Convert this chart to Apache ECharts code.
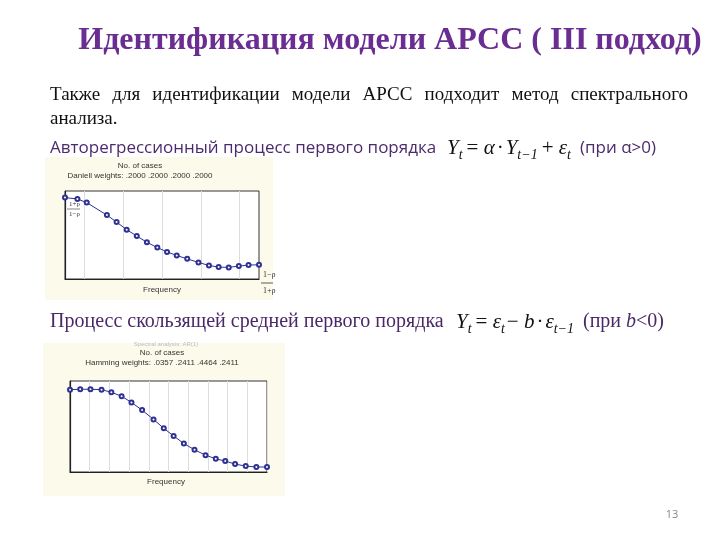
<!DOCTYPE html>
<html>
<head>
<meta charset="utf-8">
<script src="https://cdn.jsdelivr.net/npm/echarts@6/dist/echarts.min.js"></script>
<style>
  html, body { margin: 0; padding: 0; background: #fff; }
  #main { width: 720px; height: 540px; }
</style>
</head>
<body>
<div id="main"></div>
<script>
// AR(1) spectrum, Daniell weights
const arFreq = [0, 0.032, 0.056, 0.108, 0.133, 0.159, 0.185, 0.211, 0.238, 0.263,
  0.288, 0.315, 0.344, 0.371, 0.396, 0.422, 0.448, 0.473, 0.5]
const arDensity = [0.925, 0.91, 0.868, 0.726, 0.647, 0.56, 0.489, 0.417, 0.357, 0.308,
  0.267, 0.229, 0.188, 0.154, 0.135, 0.132, 0.147, 0.158, 0.162]
const arGridX = [0.054, 0.153, 0.254, 0.354, 0.453]

// MA(1) spectrum, Hamming weights
const maFreq = [0, 0.026, 0.052, 0.08, 0.105, 0.131, 0.156, 0.183, 0.212, 0.238,
  0.263, 0.289, 0.316, 0.344, 0.37, 0.394, 0.419, 0.446, 0.473, 0.5]
const maDensity = [0.905, 0.909, 0.909, 0.905, 0.876, 0.833, 0.764, 0.68, 0.578, 0.48,
  0.396, 0.313, 0.244, 0.185, 0.145, 0.12, 0.087, 0.065, 0.055, 0.055]

const ctx = document.createElement('canvas').getContext('2d')
function measure(text, font) {
  ctx.font = font
  return ctx.measureText(text).width
}

const serif = '"Liberation Serif", "DejaVu Serif", serif'
const sans = '"Open Sans", "Noto Sans", sans-serif'
const tiny = '8px "Liberation Sans", Arial, sans-serif'

// lays out formula pieces one after another
function formula(x, y, parts) {
  const out = []
  let cx = x
  parts.forEach(function (p) {
    const size = p.sub ? 14 : 21
    const style = (p.italic ? 'italic ' : '') + size + 'px ' + serif
    out.push({
      type: 'text', x: cx, y: y + (p.sub ? 7 : 0), z: 10,
      style: { text: p.t, font: style, fill: '#111', textVerticalAlign: 'middle' }
    })
    cx += measure(p.t, style) + (p.gap || 0)
  })
  return out
}

// spreads words of a line between x0 and x1
function justify(line, x0, x1, y, font, fill) {
  const words = line.split(' ')
  const total = words.reduce(function (s, w) { return s + measure(w, font) }, 0)
  const gap = (x1 - x0 - total) / (words.length - 1)
  let cx = x0
  return words.map(function (w) {
    const el = { type: 'text', x: cx, y: y, z: 10, style: { text: w, font: font, fill: fill, textVerticalAlign: 'middle' } }
    cx += measure(w, font) + gap
    return el
  })
}

const texts = [
  { x: 390, y: 41, text: 'Идентификация модели АРСС ( III подход)', font: 'bold 32px ' + serif, fill: '#6a2d91', align: 'center' },
  { x: 50, y: 119, text: 'анализа.', font: '19px ' + serif, fill: '#111' },
  { x: 50, y: 148, text: 'Авторегрессионный процесс первого порядка', font: '17px ' + sans, fill: '#4b2a6e' },
  { x: 580, y: 148, text: '(при α>0)', font: '17px ' + sans, fill: '#4b2a6e' },
  { x: 50, y: 322, text: 'Процесс скользящей средней первого порядка', font: '20px ' + serif, fill: '#4a2868' },
  { x: 583, y: 322, text: '(при ', font: '20px ' + serif, fill: '#4a2868' },
  { x: 626, y: 322, text: 'b', font: 'italic 20px ' + serif, fill: '#4a2868' },
  { x: 636, y: 322, text: '<0)', font: '20px ' + serif, fill: '#4a2868' },
  { x: 672, y: 515, text: '13', font: '11px ' + sans, fill: '#888', align: 'center' },
  // small captions of the scanned charts
  { x: 140, y: 166, text: 'No. of cases', font: tiny, fill: '#333', align: 'center' },
  { x: 140, y: 176, text: 'Daniell weights: .2000 .2000 .2000 .2000', font: tiny, fill: '#333', align: 'center' },
  { x: 162, y: 290, text: 'Frequency', font: tiny, fill: '#333', align: 'center' },
  { x: 69, y: 204, text: '1+ρ', font: '7px ' + serif, fill: '#333' },
  { x: 69, y: 214, text: '1−ρ', font: '7px ' + serif, fill: '#333' },
  { x: 263, y: 275, text: '1−ρ', font: '8px ' + serif, fill: '#333' },
  { x: 263, y: 291, text: '1+ρ', font: '8px ' + serif, fill: '#333' },
  { x: 166, y: 344, text: 'Spectral analysis: AR(1)', font: '6px "Liberation Sans", sans-serif', fill: '#bbb', align: 'center' },
  { x: 162, y: 353, text: 'No. of cases', font: tiny, fill: '#333', align: 'center' },
  { x: 162, y: 363, text: 'Hamming weights: .0357 .2411 .4464 .2411', font: tiny, fill: '#333', align: 'center' },
  { x: 166, y: 482, text: 'Frequency', font: tiny, fill: '#333', align: 'center' }
].map(function (d) {
  return {
    type: 'text', x: d.x, y: d.y, z: 10,
    style: { text: d.text, font: d.font, fill: d.fill, textAlign: d.align || 'left', textVerticalAlign: 'middle' }
  }
})

const graphics = [
  { type: 'rect', shape: { x: 45, y: 157, width: 228, height: 143 }, style: { fill: '#fcfaea' }, z: 0 },
  { type: 'rect', shape: { x: 43, y: 343, width: 242, height: 153 }, style: { fill: '#fcfaea' }, z: 0 },
  { type: 'rect', shape: { x: 65, y: 191, width: 194, height: 88 }, style: { fill: '#fff', stroke: '#333', lineWidth: 1 }, z: 1 },
  { type: 'rect', shape: { x: 70, y: 381, width: 197, height: 91 }, style: { fill: '#fff', stroke: '#333', lineWidth: 1 }, z: 1 },
  { type: 'line', shape: { x1: 261, y1: 283, x2: 273, y2: 283 }, style: { stroke: '#333', lineWidth: 0.8 }, z: 10 },
  { type: 'line', shape: { x1: 67, y1: 209, x2: 80, y2: 209 }, style: { stroke: '#333', lineWidth: 0.6 }, z: 10 }
].concat(texts)
  .concat(justify('Также для идентификации модели АРСС подходит метод спектрального', 50, 688, 95, '19px ' + serif, '#111'))
  .concat(formula(447, 148, [
    { t: 'Y', italic: true }, { t: 't', italic: true, sub: true, gap: 4 },
    { t: '= ' }, { t: 'α', italic: true, gap: 2 }, { t: '·', gap: 2 },
    { t: 'Y', italic: true }, { t: 't−1', italic: true, sub: true, gap: 4 },
    { t: '+ ' }, { t: 'ε', italic: true }, { t: 't', italic: true, sub: true }
  ]))
  .concat(formula(456, 322, [
    { t: 'Y', italic: true }, { t: 't', italic: true, sub: true, gap: 4 },
    { t: '= ' }, { t: 'ε', italic: true }, { t: 't', italic: true, sub: true, gap: 2 },
    { t: '− ' }, { t: 'b', italic: true, gap: 2 }, { t: '·', gap: 2 },
    { t: 'ε', italic: true }, { t: 't−1', italic: true, sub: true }
  ]))

function xAxisFor(gridIndex, splitShow) {
  return {
    type: 'value', gridIndex: gridIndex, min: 0, max: 0.5, interval: 0.05, z: 3,
    axisLine: { show: true, onZero: false, lineStyle: { color: '#222', width: 1.2 } },
    axisTick: { show: false }, axisLabel: { show: false },
    splitLine: { show: splitShow, lineStyle: { color: '#ddd', width: 1 } }
  }
}
function yAxisFor(gridIndex) {
  return {
    type: 'value', gridIndex: gridIndex, min: 0, max: 1, z: 3,
    axisLine: { show: true, lineStyle: { color: '#222', width: 1.2 } },
    axisTick: { show: false }, axisLabel: { show: false }, splitLine: { show: false }
  }
}
function lineSeries(idx, freq, dens, extra) {
  return Object.assign({
    type: 'line', xAxisIndex: idx, yAxisIndex: idx,
    data: freq.map(function (f, i) { return [f, dens[i]] }),
    symbol: 'emptyCircle', symbolSize: 4, showSymbol: true,
    lineStyle: { color: '#2e3192', width: 1 },
    itemStyle: { color: '#2e3192', borderWidth: 1 },
    animation: false, z: 5
  }, extra || {})
}

const chart = echarts.init(document.getElementById('main'), null, { renderer: 'canvas' })
chart.setOption({
  backgroundColor: '#ffffff',
  animation: false,
  grid: [
    { left: 65, top: 191, width: 194, height: 88 },
    { left: 70, top: 381, width: 197, height: 91 }
  ],
  xAxis: [xAxisFor(0, false), xAxisFor(1, true)],
  yAxis: [yAxisFor(0), yAxisFor(1)],
  series: [
    lineSeries(0, arFreq, arDensity, {
      markLine: {
        silent: true, symbol: 'none', label: { show: false },
        lineStyle: { color: '#ddd', type: 'solid', width: 1 },
        data: arGridX.map(function (v) { return { xAxis: v } })
      }
    }),
    lineSeries(1, maFreq, maDensity)
  ],
  graphic: graphics
})
</script>
</body>
</html>
